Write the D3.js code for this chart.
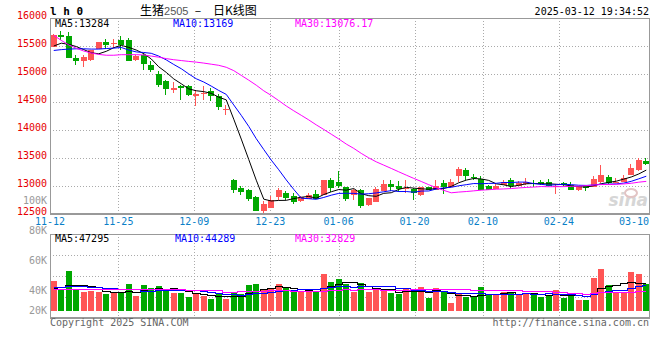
<!DOCTYPE html>
<html><head><meta charset="utf-8">
<script src="https://cdn.jsdelivr.net/npm/d3@7"></script>
<style>
html,body{margin:0;padding:0;background:#fff;}
svg{display:block;}
text{font-family:"DejaVu Sans Mono",monospace;font-size:10px;}
</style></head>
<body>
<svg id="chart" width="660" height="360"></svg>
<script>
// ---------- data ----------
const dates = ["11-12","11-13","11-14","11-15","11-18","11-19","11-20","11-21","11-22","11-25",
"11-26","11-27","11-28","11-29","12-02","12-03","12-04","12-05","12-06","12-09",
"12-10","12-11","12-12","12-13","12-16","12-17","12-18","12-19","12-20","12-23",
"12-24","12-25","12-26","12-27","12-30","12-31","01-02","01-03","01-06",
"01-07","01-08","01-09","01-10","01-13","01-14","01-15","01-16","01-17","01-20",
"01-21","01-22","01-23","01-24","01-27","02-05","02-06","02-07","02-10",
"02-11","02-12","02-13","02-14","02-17","02-18","02-19","02-20","02-21","02-24",
"02-25","02-26","02-27","02-28","03-03","03-04","03-05","03-06","03-07","03-10","03-11","03-12"];
const opens = [15490,15700,15670,15285,15225,15245,15455,15565,15540,15610,
15600,15245,15345,15165,15005,14870,14708,14780,14790,14600,
14645,14690,14610,14370,13110,12965,12920,12805,12545,12610,
12805,12875,12815,12735,12770,12865,12845,13100,13065,
12980,12835,12935,12655,12715,12915,13040,12995,12960,12945,
12835,12975,12935,13050,12980,13185,13280,13160,13125,
13005,12945,13025,13110,13005,13035,13060,13080,13065,12995,
13050,13025,12920,12995,12980,13065,13160,13055,13080,13200,13280,13450];
const highs = [15715,15760,15750,15345,15345,15430,15565,15625,15630,15670,
15645,15335,15375,15225,15045,14900,14855,14810,14805,14720,
14780,14750,14640,14450,13125,13005,12950,12830,12735,12815,
12965,12915,12875,12830,12880,12920,13115,13140,13270,
12985,12945,12950,12790,12975,13110,13110,13095,13110,12965,
12990,12985,13110,13110,13125,13340,13320,13220,13185,
13020,13050,13110,13140,13095,13140,13110,13100,13125,13035,
13070,13080,12990,13005,13170,13380,13200,13140,13190,13400,13495,13500];
const lows = [15480,15610,15280,15155,15120,15240,15450,15455,15465,15435,
15235,15240,15065,15035,14770,14630,14660,14540,14600,14420,
14540,14525,14360,14275,12875,12845,12740,12555,12515,12605,
12745,12745,12685,12720,12760,12760,12840,12885,12965,
12740,12755,12600,12650,12710,12910,12905,12895,12875,12755,
12830,12920,12930,12860,12975,13080,13110,13100,12930,
12920,12940,13015,12950,12995,13010,12985,13020,12995,12860,
13000,12925,12910,12905,12975,13060,13040,13045,13075,13195,13275,13380];
const closes = [15705,15655,15290,15225,15305,15420,15565,15510,15550,15510,
15240,15330,15185,15078,14810,14740,14750,14750,14620,14645,
14660,14600,14405,14380,12920,12885,12775,12560,12685,12755,
12935,12785,12715,12805,12835,12770,13110,12965,13005,
12775,12920,12650,12785,12950,13040,12975,12945,12970,12880,
12980,12935,13005,12975,13065,13310,13170,13150,12935,
12935,13005,13080,12995,13050,13065,13040,13040,13005,13005,
13025,12935,12975,12965,13130,13200,13055,13080,13150,13320,13470,13400];
const volumes = [52300,36600,70200,37800,33600,35400,33600,29600,30800,31900,
47000,26700,45300,40600,43600,37800,31900,31900,24900,31900,
26100,21400,29100,21400,32600,29100,45300,47000,38300,39500,
47000,39500,33600,32600,32600,34800,64500,51000,55700,
47000,33600,48300,33600,39500,35400,30800,29600,39500,35400,
41800,23200,39500,35400,14500,29100,24900,24900,42300,
29100,29600,33600,31900,27900,31900,27900,24900,27900,36600,
23200,29600,19200,19200,58000,73200,45300,31900,33600,68500,64500,46500];
const ma5Head = [15500,15550,15530,15490];
const ma10Head = [15420,15435,15445,15450,15450,15445,15445,15455,15462];
const ma30Head = [15690,15600,15520,15460,15410,15375,15350,15335,15335,15345,
15345,15345,15340,15320,15300,15275,15255,15240,15225,15212,
15195,15175,15155,15120,15060,14975,14890,14800,14700];
const volMa5Head = [39500,41300,45300,45300];
const volMa10Head = [41300,42000,43500,44100,43000,42000,41300,40500,39500];
const volMa30Head = [38300,38300,38300,38300,38300,38300,38300,38300,38300,37800,
37800,37800,37800,37800,37800,37800,37800,37800,36600,36600,
36600,36600,36600,33600,33600,34800,34800,34800,34800];
const priceTicks = [12500,13000,13500,14000,14500,15000,15500,16000];
const dateTicks = ["11-12","11-25","12-09","12-23","01-06","01-20","02-10","02-24","03-10"];
const volTicks = [100000,80000,60000,40000,20000];
const volTickLabels = ["100K","80K","60K","40K","20K"];
const legendMain = ["MA5:13284","MA10:13169","MA30:13076.17"];
const legendVol = ["MA5:47295","MA10:44289","MA30:32829"];

// ---------- layout ----------
const L = 50, R = 650, T = 18, B = 214;
const VT = 234, VB = 318, VBASE = 311;
const UP = "#ff5555", DOWN = "#00a800";
const MA_COLORS = ["#000000","#0000ff","#ff00ff"];
const GRID = "#aaaaaa", FRAME = "#999999";

const svg = d3.select("#chart");
const idx = d3.range(dates.length);
const xBand = d3.scaleBand().domain(idx).range([L, R]);
const xGrid = d3.scalePoint().domain(idx).range([L, R]);
const xc = i => xBand(i) + xBand.bandwidth() / 2;
const y = d3.scaleLinear().domain([12500, 16000]).range([B, T]);
const yv = d3.scaleLinear().domain([0, 100000]).range([VBASE, VBASE - 57.4]);
const yvLabel = d3.scaleLinear().domain([40000, 100000]).range([294, 204]);

function movingAvg(arr, n, head) {
  return arr.map((_, i) => i < n - 1 ? head[i] : d3.mean(arr.slice(i - n + 1, i + 1)));
}
const priceMA = [movingAvg(closes,5,ma5Head), movingAvg(closes,10,ma10Head), movingAvg(closes,30,ma30Head)];
const volMA = [movingAvg(volumes,5,volMa5Head), movingAvg(volumes,10,volMa10Head), movingAvg(volumes,30,volMa30Head)];

const defs = svg.append("defs");
defs.append("clipPath").attr("id","clipMain").append("rect").attr("x",L).attr("y",T).attr("width",R-L).attr("height",B-T);
defs.append("clipPath").attr("id","clipVol").append("rect").attr("x",L).attr("y",VT).attr("width",R-L).attr("height",VB-VT);

const tickIdx = dateTicks.map(d => dates.indexOf(d));

// ---------- grid ----------
const grid = svg.append("g").attr("stroke", GRID).attr("stroke-dasharray","1,2").attr("shape-rendering","crispEdges");
grid.selectAll(".hg").data(priceTicks.slice(1, -1)).join("line")
  .attr("x1", L).attr("x2", R).attr("y1", d => Math.round(y(d)) + 0.5).attr("y2", d => Math.round(y(d)) + 0.5);
const vGridIdx = tickIdx.slice(1, -1);
grid.selectAll(".vg").data(vGridIdx).join("line")
  .attr("x1", d => Math.round(xGrid(d)) + 0.5).attr("x2", d => Math.round(xGrid(d)) + 0.5)
  .attr("y1", T).attr("y2", B);
grid.selectAll(".vg2").data(vGridIdx).join("line")
  .attr("x1", d => Math.round(xGrid(d)) + 0.5).attr("x2", d => Math.round(xGrid(d)) + 0.5)
  .attr("y1", VT).attr("y2", VB);
grid.selectAll(".vh").data([1,2,3]).join("line")
  .attr("x1", L).attr("x2", R)
  .attr("y1", d => Math.round(VT + (VB - VT) * d / 4) + 0.5).attr("y2", d => Math.round(VT + (VB - VT) * d / 4) + 0.5);

// ---------- watermark ----------
const wm = svg.append("g").attr("fill","#d6d6d6");
wm.append("text").attr("x", 648).attr("y", 206).attr("text-anchor","end")
  .style("font-family","DejaVu Sans").style("font-size","17px").style("font-style","italic").style("font-weight","bold").text("sina");
wm.append("ellipse").attr("cx", 631).attr("cy", 193).attr("rx", 6).attr("ry", 4).attr("fill","none").attr("stroke","#e2c4c4").attr("stroke-width",2);

// ---------- candles ----------
const cg = svg.append("g").attr("clip-path","url(#clipMain)").attr("shape-rendering","crispEdges");
const color = i => closes[i] >= opens[i] ? UP : DOWN;
cg.selectAll(".wick").data(idx).join("rect")
  .attr("x", i => Math.round(xc(i) - 3) + 2)
  .attr("width", 1)
  .attr("y", i => Math.round(y(highs[i])))
  .attr("height", i => Math.max(1, Math.round(y(lows[i])) - Math.round(y(highs[i]))))
  .attr("fill", color);
cg.selectAll(".body").data(idx).join("rect")
  .attr("x", i => Math.round(xc(i) - 3))
  .attr("width", 6)
  .attr("y", i => Math.round(y(Math.max(opens[i], closes[i]))))
  .attr("height", i => Math.max(1, Math.round(y(Math.min(opens[i], closes[i]))) - Math.round(y(Math.max(opens[i], closes[i])))))
  .attr("fill", color);

// ---------- price MA lines ----------
const lg = svg.append("g").attr("clip-path","url(#clipMain)").attr("fill","none");
priceMA.forEach((arr, k) => {
  lg.append("path").attr("d", d3.line().x((_, i) => xc(i)).y(v => y(v))(arr))
    .attr("stroke", MA_COLORS[k]).attr("stroke-width", 1);
});

// ---------- volume bars ----------
const vg = svg.append("g").attr("clip-path","url(#clipVol)").attr("shape-rendering","crispEdges");
vg.selectAll(".vbar").data(idx).join("rect")
  .attr("x", i => Math.round(xc(i) - 3))
  .attr("width", 6)
  .attr("y", i => Math.round(yv(volumes[i])))
  .attr("height", i => VBASE - Math.round(yv(volumes[i])))
  .attr("fill", color);
const vlg = svg.append("g").attr("clip-path","url(#clipVol)").attr("fill","none");
volMA.forEach((arr, k) => {
  vlg.append("path").attr("d", d3.line().curve(d3.curveStep).x((_, i) => xc(i)).y(v => Math.round(yv(v)) + 0.5)(arr))
    .attr("stroke", MA_COLORS[k]).attr("stroke-width", 1).attr("shape-rendering","crispEdges");
});

// ---------- frames ----------
const fr = svg.append("g").attr("stroke", FRAME).attr("fill","none").attr("shape-rendering","crispEdges");
fr.append("line").attr("x1",L).attr("x2",R).attr("y1",T+0.5).attr("y2",T+0.5);
fr.append("line").attr("x1",L+0.5).attr("x2",L+0.5).attr("y1",T).attr("y2",B);
fr.append("line").attr("x1",R-0.5).attr("x2",R-0.5).attr("y1",T).attr("y2",B);
fr.append("line").attr("x1",L).attr("x2",R).attr("y1",B).attr("y2",B).attr("stroke-width",2);
fr.append("line").attr("x1",L).attr("x2",R).attr("y1",VT+0.5).attr("y2",VT+0.5);
fr.append("line").attr("x1",L+0.5).attr("x2",L+0.5).attr("y1",VT).attr("y2",VB);
fr.append("line").attr("x1",R-0.5).attr("x2",R-0.5).attr("y1",VT).attr("y2",VB);
fr.append("line").attr("x1",L).attr("x2",R).attr("y1",VB).attr("y2",VB).attr("stroke-width",2);

// ---------- axis labels ----------
svg.append("g").selectAll("text").data(priceTicks).join("text")
  .attr("x", 47).attr("y", d => y(d) + 1).attr("text-anchor","end").attr("fill","#e60000").text(d => d);
svg.append("g").selectAll("text").data(tickIdx).join("text")
  .attr("x", (d, k) => Math.min(xGrid(d), R - 16)).attr("y", 225).attr("text-anchor","middle").attr("fill","#0a7fc8")
  .text((d, k) => dateTicks[k]);
svg.append("g").selectAll("text").data(volTicks).join("text")
  .attr("x", 47).attr("y", d => Math.min(yvLabel(d), 314)).attr("text-anchor","end").attr("fill","#999999")
  .text((d, k) => volTickLabels[k]);

// ---------- legends ----------
const legX = [55, 173, 295];
svg.append("g").selectAll("text").data(legendMain).join("text")
  .attr("x", (d, k) => legX[k]).attr("y", 27).attr("fill", (d, k) => MA_COLORS[k]).text(d => d);
svg.append("g").selectAll("text").data(legendVol).join("text")
  .attr("x", (d, k) => legX[k] + (k === 1 ? 2 : 0)).attr("y", 241.5).attr("fill", (d, k) => MA_COLORS[k]).text(d => d);

// ---------- header / footer ----------
svg.append("text").attr("x", 50).attr("y", 15).style("font-weight","bold").style("font-size","11px").attr("fill","#000").text("l h 0");
const CJK = "'Noto Sans CJK SC',sans-serif";
const t1 = svg.append("text").attr("x", 140).attr("y", 15).style("font-family", CJK).style("font-size","12px").attr("fill","#000");
t1.append("tspan").text("生猪");
t1.append("tspan").style("font-family","'Liberation Sans',sans-serif").style("font-size","11px").attr("fill","#555").text("2505");
svg.append("text").attr("x", 198).attr("y", 15).attr("text-anchor","middle").style("font-family", CJK).style("font-size","12px").attr("fill","#000").text("–");
svg.append("text").attr("x", 213).attr("y", 15).style("font-family", CJK).style("font-size","12px").attr("fill","#000").text("日K线图");
svg.append("text").attr("x", 649).attr("y", 15).attr("text-anchor","end").attr("fill","#000").text("2025-03-12 19:34:52");
svg.append("text").attr("x", 50).attr("y", 326).attr("fill","#666").text("Copyright 2025 SINA.COM");
svg.append("text").attr("x", 649).attr("y", 326).attr("text-anchor","end").attr("fill","#666").text("http://finance.sina.com.cn");
</script>
</body></html>
